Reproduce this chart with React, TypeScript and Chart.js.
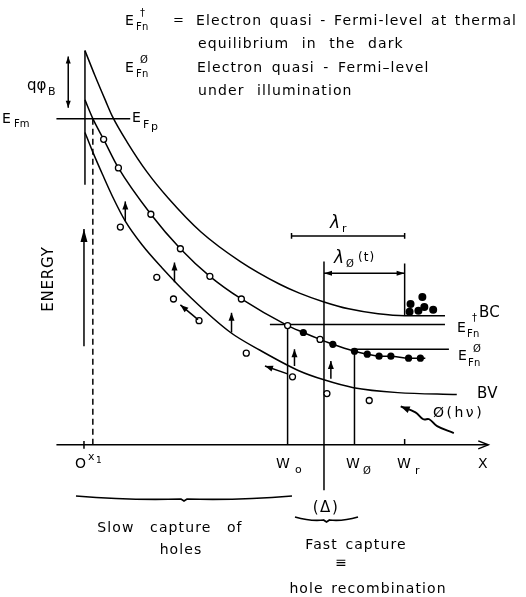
import React, { useEffect, useRef } from 'react';
import { Chart, registerables } from 'chart.js';

Chart.register(...registerables);

type Pt = { x: number; y: number };

// Position x is measured from the contact (O); energy E is measured upward from the X axis.
const conductionBand: Pt[] = [
  { x: 1, y: 400 }, { x: 11, y: 375 }, { x: 22, y: 349 }, { x: 29, y: 333 },
  { x: 44, y: 307 }, { x: 64, y: 277 }, { x: 86, y: 250 }, { x: 119, y: 216 },
  { x: 159, y: 186 }, { x: 199, y: 163 }, { x: 219, y: 154 }, { x: 244, y: 145 },
  { x: 269, y: 138 }, { x: 299, y: 133 }, { x: 326, y: 131 }, { x: 367, y: 131 },
];

const trapLevel: Pt[] = [
  { x: 1, y: 350 }, { x: 9, y: 331 }, { x: 20, y: 310 }, { x: 35, y: 281 },
  { x: 68, y: 234 }, { x: 98, y: 199 }, { x: 128, y: 171 }, { x: 160, y: 148 },
  { x: 207, y: 121 }, { x: 223, y: 114 }, { x: 240, y: 107 }, { x: 253, y: 102 },
  { x: 275, y: 95 }, { x: 288, y: 92 }, { x: 300, y: 90 }, { x: 312, y: 90 },
  { x: 330, y: 88 }, { x: 342, y: 88 }, { x: 347, y: 88 },
];

const valenceBand: Pt[] = [
  { x: 1, y: 317 }, { x: 9, y: 297 }, { x: 19, y: 274 }, { x: 29, y: 252 },
  { x: 42, y: 227 }, { x: 59, y: 203 }, { x: 79, y: 180 }, { x: 109, y: 149 },
  { x: 149, y: 114 }, { x: 179, y: 96 }, { x: 219, y: 75 }, { x: 244, y: 66 },
  { x: 274, y: 58 }, { x: 319, y: 53 }, { x: 379, y: 51 },
];

// Empty and occupied states on the trap level
const emptyStates: Pt[] = [
  { x: 20, y: 310 }, { x: 35, y: 281 }, { x: 68, y: 234 }, { x: 98, y: 199 },
  { x: 128, y: 171 }, { x: 160, y: 148 }, { x: 207, y: 121 }, { x: 240, y: 107 },
];
const filledStates: Pt[] = [
  { x: 223, y: 114 }, { x: 253, y: 102 }, { x: 275, y: 95 }, { x: 288, y: 92 },
  { x: 300, y: 90 }, { x: 312, y: 90 }, { x: 330, y: 88 }, { x: 342, y: 88 },
];
const holes: Pt[] = [
  { x: 37, y: 221 }, { x: 74, y: 170 }, { x: 91, y: 148 }, { x: 117, y: 126 },
  { x: 165, y: 93 }, { x: 212, y: 69 }, { x: 247, y: 52 }, { x: 290, y: 45 },
];
const electrons: Pt[] = [
  { x: 332, y: 143 }, { x: 344, y: 150 }, { x: 346, y: 140 },
  { x: 355, y: 137 }, { x: 331, y: 135 }, { x: 340, y: 136 },
];

// Straight segments: levels, boundaries and markers
const levelEFm: Pt[] = [{ x: -28, y: 331 }, { x: 47, y: 331 }];
const levelEFnDark: Pt[] = [{ x: 189, y: 122 }, { x: 367, y: 122 }];
const levelEFnLight: Pt[] = [{ x: 272, y: 97 }, { x: 371, y: 97 }];
const interfaceLine: Pt[] = [{ x: 1, y: 400 }, { x: 1, y: 264 }];
const depletionEdge: Pt[] = [{ x: 9, y: 331 }, { x: 9, y: 0 }];
const markerW0: Pt[] = [{ x: 207, y: 121 }, { x: 207, y: 0 }];
const markerDelta: Pt[] = [{ x: 244, y: 186 }, { x: 244, y: -46 }];
const markerWphi: Pt[] = [{ x: 275, y: 95 }, { x: 275, y: 0 }];
const markerWr: Pt[] = [{ x: 326, y: 184 }, { x: 326, y: 131 }];
const tickWr: Pt[] = [{ x: 326, y: 6 }, { x: 326, y: 0 }];
const tickO: Pt[] = [{ x: 0, y: 4 }, { x: 0, y: -4 }];
const xAxis: Pt[] = [{ x: -28, y: 0 }, { x: 411, y: 0 }];
const lambdaRBar: Pt[] = [{ x: 211, y: 212 }, { x: 326, y: 212 }];
const lambdaRTicks: Pt[][] = [
  [{ x: 211, y: 215 }, { x: 211, y: 209 }],
  [{ x: 326, y: 215 }, { x: 326, y: 209 }],
];
const photonPath: Pt[] = [
  { x: 376, y: 12 }, { x: 359, y: 19 }, { x: 351, y: 26 },
  { x: 345, y: 26 }, { x: 337, y: 33 }, { x: 322, y: 39 },
];

// Arrows [from, to]
const arrowsUp: [Pt, Pt][] = [
  [{ x: 42, y: 227 }, { x: 42, y: 247 }],
  [{ x: 92, y: 165 }, { x: 92, y: 185 }],
  [{ x: 150, y: 114 }, { x: 150, y: 134 }],
  [{ x: 214, y: 80 }, { x: 214, y: 97 }],
  [{ x: 251, y: 67 }, { x: 251, y: 85 }],
];
const holeDrift: [Pt, Pt][] = [
  [{ x: 116, y: 127 }, { x: 98, y: 142 }],
  [{ x: 207, y: 72 }, { x: 184, y: 80 }],
];
const energyArrow: [Pt, Pt] = [{ x: 0, y: 100 }, { x: 0, y: 219 }];
const barrierArrow: [Pt, Pt] = [{ x: -16, y: 342 }, { x: -16, y: 394 }];
const lambdaPhiArrow: [Pt, Pt] = [{ x: 244, y: 174 }, { x: 326, y: 174 }];

const FONT = '"DejaVu Sans", sans-serif';
const LW = 1.5;

const lineSet = (data: Pt[], extra: any = {}) => ({
  data,
  showLine: true,
  borderColor: '#000',
  borderWidth: LW,
  pointRadius: 0,
  fill: false,
  ...extra,
});

function drawText(ctx: CanvasRenderingContext2D, s: string, x: number, y: number, size: number, o: any = {}) {
  ctx.save();
  ctx.font = `${o.italic ? 'italic ' : ''}${size}px ${FONT}`;
  ctx.textAlign = o.align || 'left';
  ctx.textBaseline = 'alphabetic';
  (ctx as any).letterSpacing = `${o.sp ?? 1.1}px`;
  (ctx as any).wordSpacing = `${o.ws ?? 2}px`;
  ctx.fillStyle = '#000';
  ctx.fillText(s, x, y);
  ctx.restore();
}

function head(ctx: CanvasRenderingContext2D, from: any, to: any, len = 8, half = 3) {
  const a = Math.atan2(to.y - from.y, to.x - from.x);
  const c = Math.cos(a), s = Math.sin(a);
  ctx.beginPath();
  ctx.moveTo(to.x, to.y);
  ctx.lineTo(to.x - len * c + half * s, to.y - len * s - half * c);
  ctx.lineTo(to.x - len * c - half * s, to.y - len * s + half * c);
  ctx.closePath();
  ctx.fill();
}

function brace(ctx: CanvasRenderingContext2D, x0: number, x1: number, y: number, h: number) {
  const xm = (x0 + x1) / 2;
  ctx.save();
  ctx.lineWidth = 1.7;
  ctx.beginPath();
  ctx.moveTo(x0, y);
  ctx.quadraticCurveTo(x0 + (xm - x0) * 0.5, y + h * 0.9, xm - 3, y + h * 0.6);
  ctx.lineTo(xm, y + h);
  ctx.lineTo(xm + 3, y + h * 0.6);
  ctx.quadraticCurveTo(x1 - (x1 - xm) * 0.5, y + h * 0.9, x1, y);
  ctx.stroke();
  ctx.restore();
}

const annotations = {
  id: 'annotations',
  afterDatasetsDraw(chart: any) {
    const ctx: CanvasRenderingContext2D = chart.ctx;
    const sx = chart.scales.x, sy = chart.scales.y;
    const px = (p: Pt) => ({ x: sx.getPixelForValue(p.x), y: sy.getPixelForValue(p.y) });
    ctx.save();
    ctx.strokeStyle = '#000';
    ctx.fillStyle = '#000';
    ctx.lineWidth = LW;

    const arrow = (f: Pt, t: Pt, both = false, len = 8, half = 3) => {
      const a = px(f), b = px(t);
      ctx.beginPath();
      ctx.moveTo(a.x, a.y);
      ctx.lineTo(b.x, b.y);
      ctx.stroke();
      head(ctx, a, b, len, half);
      if (both) head(ctx, b, a, len, half);
    };
    arrowsUp.forEach(([f, t]) => arrow(f, t));
    holeDrift.forEach(([f, t]) => arrow(f, t));
    arrow(energyArrow[0], energyArrow[1], false, 13, 3.5);
    arrow(barrierArrow[0], barrierArrow[1], true, 7, 2.5);
    arrow(lambdaPhiArrow[0], lambdaPhiArrow[1], true, 8, 2.5);

    // photon arrow head
    const n = photonPath.length;
    head(ctx, px(photonPath[n - 2]), px(photonPath[n - 1]), 9, 3.5);

    // open head of the X axis
    const tip = px(xAxis[1]);
    ctx.beginPath();
    ctx.moveTo(tip.x - 10, tip.y - 4);
    ctx.lineTo(tip.x, tip.y);
    ctx.lineTo(tip.x - 10, tip.y + 4);
    ctx.stroke();

    // legend block
    drawText(ctx, 'E', 125, 25, 14, { sp: 0 });
    drawText(ctx, 'Fn', 136, 30, 10, { sp: 0.3 });
    drawText(ctx, '†', 140, 16, 10, { sp: 0 });
    drawText(ctx, '=', 173, 24, 13, { sp: 0 });
    drawText(ctx, 'Electron quasi - Fermi-level at thermal', 196, 25, 14, { ws: 2 });
    drawText(ctx, 'equilibrium in the dark', 198, 48, 14, { ws: 7 });
    drawText(ctx, 'E', 125, 72, 14, { sp: 0 });
    drawText(ctx, 'Ø', 140, 63, 10, { sp: 0 });
    drawText(ctx, 'Fn', 136, 77, 10, { sp: 0.3 });
    drawText(ctx, 'Electron quasi - Fermi–level', 197, 72, 14, { ws: 3 });
    drawText(ctx, 'under illumination', 198, 95, 14, { ws: 7 });

    // left side
    drawText(ctx, 'qφ', 27, 90, 15, { sp: 0 });
    drawText(ctx, 'B', 48, 95, 11, { sp: 0 });
    drawText(ctx, 'E', 2, 123, 14, { sp: 0 });
    drawText(ctx, 'Fm', 14, 127, 10, { sp: 0 });
    drawText(ctx, 'E', 132, 122, 14, { sp: 0 });
    drawText(ctx, 'F', 143, 128, 11, { sp: 0 });
    drawText(ctx, 'p', 151, 130, 11, { sp: 0 });
    ctx.save();
    ctx.translate(53, 279);
    ctx.rotate(-Math.PI / 2);
    drawText(ctx, 'ENERGY', 0, 0, 15, { align: 'center', sp: 0.8 });
    ctx.restore();

    // right side
    drawText(ctx, 'λ', 330, 228, 17, { sp: 0, italic: true });
    drawText(ctx, 'r', 342, 232, 11, { sp: 0 });
    drawText(ctx, 'λ', 334, 263, 17, { sp: 0, italic: true });
    drawText(ctx, 'Ø', 346, 267, 10, { sp: 0 });
    drawText(ctx, '(t)', 358, 261, 12, { sp: 1 });
    drawText(ctx, 'BC', 479, 317, 15, { sp: 0.3 });
    drawText(ctx, 'E', 457, 332, 14, { sp: 0 });
    drawText(ctx, '†', 472, 321, 10, { sp: 0 });
    drawText(ctx, 'Fn', 467, 337, 10, { sp: 0.3 });
    drawText(ctx, 'E', 458, 360, 14, { sp: 0 });
    drawText(ctx, 'Ø', 473, 352, 10, { sp: 0 });
    drawText(ctx, 'Fn', 468, 366, 10, { sp: 0.3 });
    drawText(ctx, 'BV', 477, 398, 15, { sp: 0.3 });
    drawText(ctx, 'Ø(hν)', 433, 417, 14, { sp: 2.5 });

    // axis labels
    drawText(ctx, 'O', 75, 468, 14, { sp: 0 });
    drawText(ctx, 'x', 88, 460, 11, { sp: 0 });
    drawText(ctx, '1', 96, 463, 9, { sp: 0 });
    drawText(ctx, 'W', 276, 468, 14, { sp: 0 });
    drawText(ctx, 'o', 295, 473, 11, { sp: 0 });
    drawText(ctx, 'W', 346, 468, 14, { sp: 0 });
    drawText(ctx, 'Ø', 363, 474, 10, { sp: 0 });
    drawText(ctx, 'W', 397, 468, 14, { sp: 0 });
    drawText(ctx, 'r', 415, 474, 11, { sp: 0 });
    drawText(ctx, 'X', 478, 468, 14, { sp: 0 });

    // bottom captions
    drawText(ctx, '(Δ)', 326, 512, 15, { align: 'center', sp: 1.5 });
    brace(ctx, 76, 292, 496, 5);
    brace(ctx, 295, 358, 517, 5);
    drawText(ctx, 'Slow capture of', 170, 532, 14, { align: 'center', ws: 10 });
    drawText(ctx, 'holes', 181, 554, 14, { align: 'center' });
    drawText(ctx, 'Fast capture', 356, 549, 14, { align: 'center' });
    drawText(ctx, '≡', 341, 567, 14, { align: 'center', sp: 0 });
    drawText(ctx, 'hole recombination', 368, 593, 14, { align: 'center' });

    ctx.restore();
  },
};

export default function App() {
  const ref = useRef<HTMLCanvasElement | null>(null);

  useEffect(() => {
    if (!ref.current) return;
    const open = { pointRadius: 3, pointBackgroundColor: '#fff', pointBorderColor: '#000', pointBorderWidth: 1.3, showLine: false };
    const solid = { pointRadius: 3.6, pointBackgroundColor: '#000', pointBorderColor: '#000', pointBorderWidth: 0, showLine: false };
    const datasets: any[] = [
      { data: emptyStates, ...open },
      { data: filledStates, ...solid },
      { data: holes, ...open },
      { data: electrons, ...solid, pointRadius: 4 },
      lineSet(conductionBand, { cubicInterpolationMode: 'monotone' }),
      lineSet(trapLevel, { cubicInterpolationMode: 'monotone' }),
      lineSet(valenceBand, { cubicInterpolationMode: 'monotone' }),
      lineSet(photonPath, { tension: 0.4, borderWidth: 1.9 }),
      lineSet(levelEFm), lineSet(levelEFnDark), lineSet(levelEFnLight),
      lineSet(interfaceLine), lineSet(markerW0), lineSet(markerDelta),
      lineSet(markerWphi), lineSet(markerWr), lineSet(tickWr), lineSet(tickO),
      lineSet(xAxis), lineSet(lambdaRBar),
      ...lambdaRTicks.map((t) => lineSet(t)),
      lineSet(depletionEdge, { borderDash: [6, 4] }),
    ];
    const chart = new Chart(ref.current, {
      type: 'scatter',
      data: { datasets },
      options: {
        animation: false,
        responsive: false,
        devicePixelRatio: 1,
        layout: { padding: 0 },
        events: [],
        scales: {
          x: { type: 'linear', min: -81, max: 445, display: false },
          y: { type: 'linear', min: -150, max: 447, display: false },
        },
        plugins: { legend: { display: false }, tooltip: { enabled: false } },
        elements: { point: { hoverRadius: 0 } },
      },
      plugins: [annotations],
    });
    return () => chart.destroy();
  }, []);

  return (
    <div style={{ position: 'fixed', left: 0, top: 0, width: 526, height: 597, background: '#fff' }}>
      <canvas ref={ref} width={526} height={597} style={{ display: 'block' }} />
    </div>
  );
}
